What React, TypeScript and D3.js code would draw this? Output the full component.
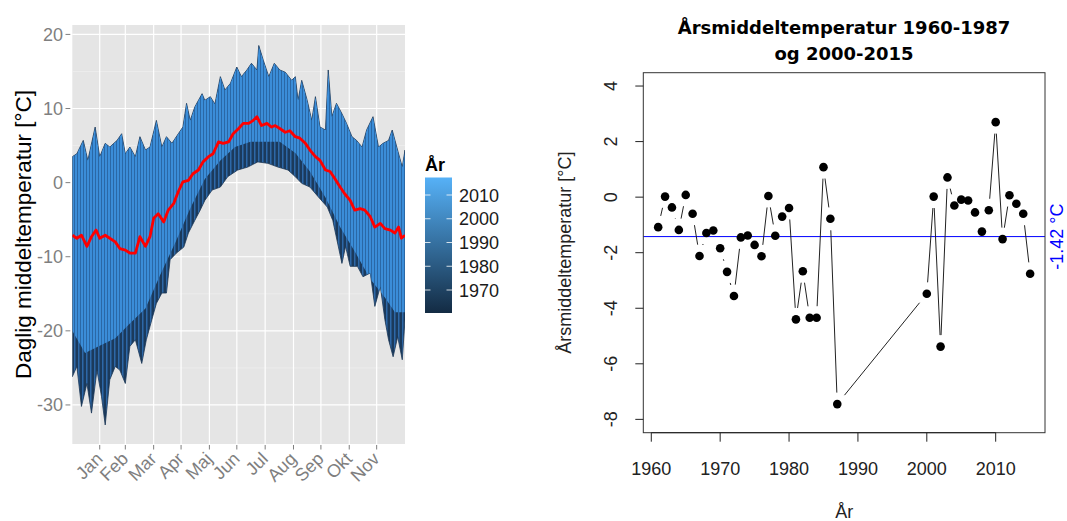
import React from "react";
import * as d3 from "d3";

// ---------- Left panel data (daily mean temperature, all years) ----------
const monthLabels = ["Jan", "Feb", "Mar", "Apr", "Maj", "Jun", "Jul", "Aug", "Sep", "Okt", "Nov"];
const monthTickDays = [31, 59, 90, 120, 151, 181, 212, 243, 273, 304, 334];
const leftYTicks = [-30, -20, -10, 0, 10, 20];
const leftYMinor = [-25, -15, -5, 5, 15];

// upper envelope of all yearly curves [day, °C]
const upperEnvelope: [number, number][] = [
  [1, 3.5], [6, 3.9], [13, 5.7], [18, 3.0], [26, 7.5], [31, 3.5], [37, 5.3], [42, 4.8],
  [50, 5.7], [55, 6.6], [59, 3.9], [64, 4.8], [70, 3.5], [75, 6.2], [81, 4.4], [86, 4.8],
  [93, 8.4], [99, 4.8], [104, 6.2], [110, 5.3], [117, 6.6], [122, 7.5], [126, 10.7], [130, 8.4],
  [135, 10.2], [143, 12.0], [146, 11.1], [152, 11.6], [157, 10.6], [163, 14.3], [168, 12.5],
  [174, 13.4], [181, 15.6], [186, 14.3], [192, 15.2], [197, 16.1], [203, 15.2], [205, 18.5],
  [210, 16.5], [216, 14.3], [222, 16.1], [228, 15.2], [234, 14.9], [241, 13.8], [245, 14.3],
  [248, 11.1], [252, 13.8], [258, 11.1], [263, 8.4], [267, 11.6], [272, 7.5], [278, 7.1],
  [281, 15.2], [285, 8.9], [290, 10.7], [296, 9.3], [301, 8.0], [307, 6.2], [312, 5.7],
  [318, 4.8], [323, 7.1], [330, 8.9], [336, 4.8], [341, 5.3], [347, 5.7], [351, 7.1],
  [356, 4.8], [362, 2.1], [365, 4.4],
];

// lower envelope of all yearly curves [day, °C]
const lowerEnvelope: [number, number][] = [
  [1, -26.2], [6, -24.8], [11, -30.2], [17, -27.1], [22, -31.1], [28, -25.3], [33, -28.9],
  [37, -32.7], [42, -26.6], [48, -24.8], [53, -25.3], [59, -27.1], [64, -22.1], [70, -21.2],
  [77, -24.4], [82, -21.2], [88, -18.5], [93, -16.3], [99, -14.9], [104, -14.9], [108, -10.4],
  [115, -9.5], [123, -8.7], [128, -6.8], [135, -5.1], [141, -3.7], [146, -2.4], [154, -1.0],
  [163, -0.6], [171, 0.8], [182, 1.7], [193, 2.1], [204, 2.8], [215, 2.6], [226, 2.1],
  [237, 1.7], [245, 0.8], [252, -0.1], [261, -0.6], [270, -1.9], [280, -3.3], [286, -5.1],
  [296, -10.9], [300, -8.6], [305, -11.3], [313, -11.3], [319, -12.7], [327, -12.2],
  [332, -16.7], [338, -14.0], [343, -18.5], [347, -21.2], [352, -23.5], [357, -20.8],
  [362, -23.9], [365, -18.5],
];

// lower edge of the recent (light blue) years [day, °C]
const recentLower: [number, number][] = [
  [1, -20], [15, -23], [31, -22], [48, -21], [64, -19], [81, -17], [97, -12.5], [114, -8],
  [130, -3.5], [146, 0.5], [163, 3], [179, 4.8], [196, 5.5], [212, 5.5], [228, 5.5],
  [245, 4], [261, 1.5], [278, -2], [294, -6], [311, -9.5], [327, -13], [343, -15.5],
  [354, -17.5], [365, -17.5],
];

// mean over all years (red line) [day, °C]
const meanCurve: [number, number][] = [
  [1, -7.1], [6, -7.5], [11, -7.1], [17, -8.6], [22, -7.3], [27, -6.4], [31, -7.5], [37, -7.1],
  [42, -7.5], [48, -8.0], [53, -8.9], [59, -9.1], [64, -9.5], [70, -9.5], [75, -7.3], [81, -8.6],
  [86, -7.3], [90, -4.8], [95, -4.2], [101, -5.3], [106, -3.7], [112, -2.8], [117, -1.2],
  [122, 0.1], [128, 0.3], [133, 1.2], [139, 1.7], [144, 2.8], [150, 3.5], [155, 3.9],
  [161, 5.5], [166, 5.3], [172, 5.5], [177, 6.6], [183, 7.3], [188, 8.0], [194, 8.0],
  [199, 8.4], [203, 8.9], [208, 7.7], [214, 8.0], [219, 7.5], [223, 7.7], [228, 7.3],
  [234, 6.8], [239, 7.0], [245, 6.2], [250, 6.0], [256, 5.3], [261, 4.4], [267, 3.5],
  [272, 3.0], [278, 1.7], [283, 1.5], [288, 0.6], [294, -0.6], [299, -1.5], [305, -2.4],
  [310, -3.7], [316, -3.5], [321, -3.7], [327, -4.6], [332, -6.0], [338, -5.5], [343, -6.2],
  [349, -6.4], [354, -6.8], [358, -6.0], [361, -7.5], [365, -7.1],
];

const legendYears = [1970, 1980, 1990, 2000, 2010];

// ---------- Right panel data (annual mean temperature) ----------
const years = [
  1961, 1962, 1963, 1964, 1965, 1966, 1967, 1968, 1969, 1970, 1971, 1972, 1973, 1974,
  1975, 1976, 1977, 1978, 1979, 1980, 1981, 1982, 1983, 1984, 1985, 1986, 1987,
  2000, 2001, 2002, 2003, 2004, 2005, 2006, 2007, 2008, 2009, 2010, 2011, 2012, 2013, 2014, 2015,
];
const annualMean = [
  -1.08, 0.02, -0.37, -1.18, 0.08, -0.6, -2.12, -1.29, -1.2, -1.84, -2.69, -3.56, -1.45, -1.38,
  -1.72, -2.13, 0.04, -1.39, -0.7, -0.39, -4.4, -2.67, -4.34, -4.34, 1.08, -0.78, -7.45,
  -3.48, 0.02, -5.38, 0.71, -0.3, -0.09, -0.12, -0.55, -1.24, -0.47, 2.7, -1.51, 0.07, -0.24, -0.6, -2.76,
];
const overallMean = -1.42;
const rightYTicks = [-8, -6, -4, -2, 0, 2, 4];
const rightXTicks = [1960, 1970, 1980, 1990, 2000, 2010];

const SANS = "'Liberation Sans', Arial, Helvetica, sans-serif";

export default function App() {
  // ----- left panel scales -----
  const pL = { left: 72.3, right: 405, top: 25, bottom: 444 };
  const xL = d3.scaleLinear().domain([1, 365]).range([pL.left, pL.right]);
  const yL = d3.scaleLinear().domain([-35.27, 21.27]).range([pL.bottom, pL.top]);
  const lineL = d3.line<[number, number]>().x((d) => xL(d[0])).y((d) => yL(d[1]));

  const upPath = lineL(upperEnvelope) as string;
  const lowRev = (lineL([...lowerEnvelope].reverse()) as string).replace(/^M/, "L");
  const envelopePath = upPath + lowRev + "Z";
  const recRev = (lineL([...recentLower].reverse()) as string).replace(/^M/, "L");
  const recentPath = upPath + recRev + "Z";

  // legend
  const legY = d3.scaleLinear().domain([1970, 2010]).range([290, 195]);
  const legTop = 177.5, legBottom = 313;

  // ----- right panel scales -----
  const pR = { left: 643.3, right: 1045, top: 72.7, bottom: 432.7 };
  const xR = d3.scaleLinear().domain([1958.84, 2017.16]).range([pR.left, pR.right]);
  const yR = d3.scaleLinear().domain([-8.48, 4.48]).range([pR.bottom, pR.top]);
  const pts = years.map((yr, i) => [xR(yr), yR(annualMean[i])] as [number, number]);
  const gap = 11.5;
  const segs: { x1: number; y1: number; x2: number; y2: number }[] = [];
  for (let i = 0; i < pts.length - 1; i++) {
    const [ax, ay] = pts[i];
    const [bx, by] = pts[i + 1];
    const dx = bx - ax, dy = by - ay;
    const d = Math.hypot(dx, dy);
    if (d > 2 * gap) {
      const ux = dx / d, uy = dy / d;
      segs.push({ x1: ax + ux * gap, y1: ay + uy * gap, x2: bx - ux * gap, y2: by - uy * gap });
    }
  }

  return (
    <svg width={1067} height={521} style={{ position: "absolute", left: 0, top: 0, background: "#fff" }}>
      <defs>
        <pattern id="recentStripes" width="3" height="10" patternUnits="userSpaceOnUse">
          <rect width="3" height="10" fill="#3b8dd8" />
          <rect x="2" width="1" height="10" fill="#2a68a6" />
        </pattern>
        <pattern id="oldStripes" width="4" height="10" patternUnits="userSpaceOnUse">
          <rect width="4" height="10" fill="#1b3a5c" />
          <rect x="2" width="1.5" height="10" fill="#2d68a8" />
        </pattern>
        <clipPath id="envClip">
          <path d={envelopePath} />
        </clipPath>
        <clipPath id="panelClip">
          <rect x={pL.left} y={pL.top} width={pL.right - pL.left} height={pL.bottom - pL.top} />
        </clipPath>
        <linearGradient id="yearGrad" x1="0" y1="1" x2="0" y2="0">
          <stop offset="0%" stopColor="#132B43" />
          <stop offset="100%" stopColor="#56B1F7" />
        </linearGradient>
      </defs>

      {/* ================= LEFT PANEL ================= */}
      <rect x={pL.left} y={pL.top} width={pL.right - pL.left} height={pL.bottom - pL.top} fill="#E5E5E5" />
      {leftYMinor.map((t) => (
        <line key={"mn" + t} x1={pL.left} x2={pL.right} y1={yL(t)} y2={yL(t)} stroke="#F2F2F2" strokeWidth={0.6} />
      ))}
      {leftYTicks.map((t) => (
        <line key={"gy" + t} x1={pL.left} x2={pL.right} y1={yL(t)} y2={yL(t)} stroke="#FFFFFF" strokeWidth={1.2} />
      ))}
      {monthTickDays.map((d) => (
        <line key={"gx" + d} x1={xL(d)} x2={xL(d)} y1={pL.top} y2={pL.bottom} stroke="#FFFFFF" strokeWidth={1.2} />
      ))}

      <g clipPath="url(#panelClip)">
        <path d={envelopePath} fill="url(#oldStripes)" stroke="#1a3655" strokeWidth={0.8} strokeLinejoin="round" />
        <g clipPath="url(#envClip)">
          <path d={recentPath} fill="url(#recentStripes)" />
        </g>
        <path d={lineL(meanCurve) as string} fill="none" stroke="#FF0000" strokeWidth={2.8} strokeLinejoin="round" />
      </g>

      {/* left axes */}
      {leftYTicks.map((t) => (
        <g key={"ly" + t}>
          <line x1={65.5} x2={pL.left - 2} y1={yL(t)} y2={yL(t)} stroke="#7F7F7F" strokeWidth={1} />
          <text x={63} y={yL(t) + 6.5} textAnchor="end" fontFamily={SANS} fontSize={18} fill="#7F7F7F">
            {t}
          </text>
        </g>
      ))}
      {monthTickDays.map((d, i) => (
        <g key={"lx" + d}>
          <line x1={xL(d)} x2={xL(d)} y1={pL.bottom + 1} y2={pL.bottom + 5.5} stroke="#7F7F7F" strokeWidth={1} />
          <text
            transform={`translate(${xL(d) + 4},${pL.bottom + 16}) rotate(-45)`}
            textAnchor="end"
            fontFamily={SANS}
            fontSize={18}
            fill="#7F7F7F"
          >
            {monthLabels[i]}
          </text>
        </g>
      ))}
      <text
        transform={`translate(31,${(pL.top + pL.bottom) / 2}) rotate(-90)`}
        textAnchor="middle"
        fontFamily={SANS}
        fontSize={22.5}
        fill="#000"
      >
        Daglig middeltemperatur [°C]
      </text>

      {/* legend */}
      <text x={425} y={171} fontFamily={SANS} fontSize={18} fontWeight="bold" fill="#000">
        År
      </text>
      <rect x={425} y={legTop} width={27} height={legBottom - legTop} fill="url(#yearGrad)" />
      {legendYears.map((yr) => (
        <g key={"lg" + yr}>
          <line x1={425} x2={430.5} y1={legY(yr)} y2={legY(yr)} stroke="#FFFFFF" strokeWidth={1} opacity={0.8} />
          <line x1={446.5} x2={452} y1={legY(yr)} y2={legY(yr)} stroke="#FFFFFF" strokeWidth={1} opacity={0.8} />
          <text x={459} y={legY(yr) + 6.5} fontFamily={SANS} fontSize={18} fill="#1a1a1a">
            {yr}
          </text>
        </g>
      ))}

      {/* ================= RIGHT PANEL ================= */}
      <text x={844} y={34} textAnchor="middle" fontFamily="'DejaVu Sans', sans-serif" fontWeight="bold" fontSize={18} fill="#000">
        Årsmiddeltemperatur 1960-1987
      </text>
      <text x={844} y={60} textAnchor="middle" fontFamily="'DejaVu Sans', sans-serif" fontWeight="bold" fontSize={18} fill="#000">
        og 2000-2015
      </text>

      <line x1={pR.left} x2={pR.right} y1={yR(overallMean)} y2={yR(overallMean)} stroke="#0000FF" strokeWidth={1} />

      {segs.map((s, i) => (
        <line key={"sg" + i} x1={s.x1} y1={s.y1} x2={s.x2} y2={s.y2} stroke="#222" strokeWidth={1} />
      ))}
      {pts.map(([px, py], i) => (
        <circle key={"pt" + i} cx={px} cy={py} r={4.3} fill="#000" />
      ))}

      <rect x={pR.left} y={pR.top} width={pR.right - pR.left} height={pR.bottom - pR.top} fill="none" stroke="#333" strokeWidth={1} />

      {/* right axes */}
      <line x1={xR(rightXTicks[0])} x2={xR(rightXTicks[rightXTicks.length - 1])} y1={pR.bottom} y2={pR.bottom} stroke="#222" />
      {rightXTicks.map((t) => (
        <g key={"rx" + t}>
          <line x1={xR(t)} x2={xR(t)} y1={pR.bottom} y2={pR.bottom + 9} stroke="#222" strokeWidth={1} />
          <text x={xR(t)} y={475} textAnchor="middle" fontFamily={SANS} fontSize={18} fill="#222">
            {t}
          </text>
        </g>
      ))}
      {rightYTicks.map((t) => (
        <g key={"ry" + t}>
          <line x1={pR.left - 8} x2={pR.left} y1={yR(t)} y2={yR(t)} stroke="#222" strokeWidth={1} />
          <text
            transform={`translate(617,${yR(t)}) rotate(-90)`}
            textAnchor="middle"
            fontFamily={SANS}
            fontSize={18}
            fill="#222"
          >
            {t}
          </text>
        </g>
      ))}
      <text
        transform={`translate(571,${(pR.top + pR.bottom) / 2}) rotate(-90)`}
        textAnchor="middle"
        fontFamily={SANS}
        fontSize={18}
        fill="#222"
      >
        Årsmiddeltemperatur [°C]
      </text>
      <text x={(pR.left + pR.right) / 2} y={518} textAnchor="middle" fontFamily={SANS} fontSize={18} fill="#222">
        År
      </text>
      <text
        transform={`translate(1063,${yR(overallMean)}) rotate(-90)`}
        textAnchor="middle"
        fontFamily={SANS}
        fontSize={18}
        fill="#0000FF"
      >
        {overallMean.toFixed(2)} °C
      </text>
    </svg>
  );
}
